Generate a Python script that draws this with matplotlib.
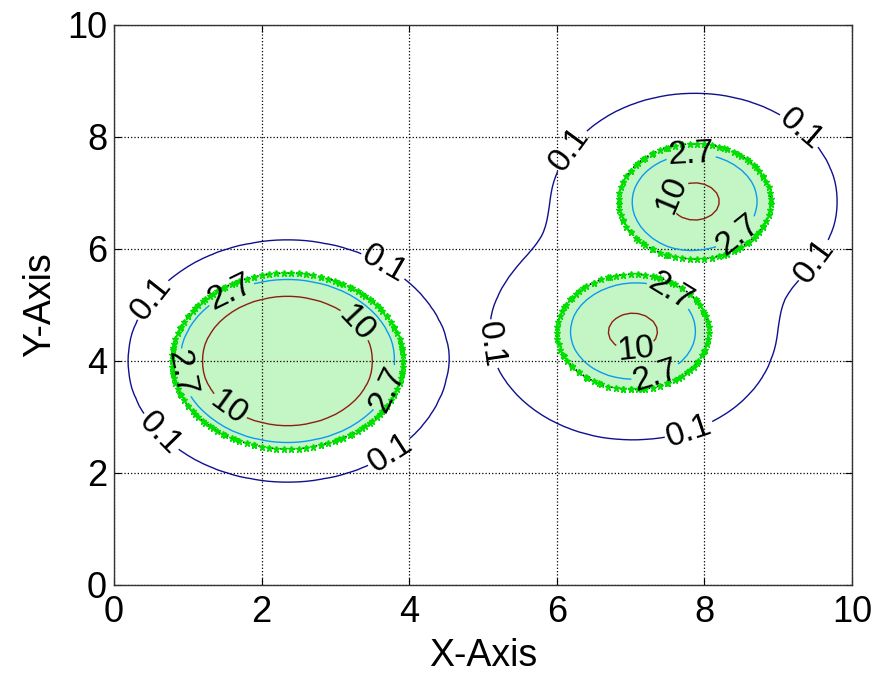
import matplotlib
matplotlib.use('Agg')
import matplotlib.pyplot as plt
import numpy as np

plt.rcParams['font.family'] = ['Liberation Sans', 'DejaVu Sans']

# Blob parameters (centre, peak value, width)
blob_x = [2.35, 7.03, 7.87]
blob_y = [4.00, 4.52, 6.85]
blob_peak = [595.0, 18.8, 18.8]
blob_width = [0.356, 0.485, 0.485]
blob_shape = 1.2

levels = [0.1, 2.7, 10]
level_colors = ['#10108f', '#0a9bf0', '#8e1e12']
fill_level = 1.6

# manual label positions for each level
label_pos = [
    [(0.68, 4.93), (3.58, 5.55), (0.54, 2.62), (3.74, 2.35),
     (6.33, 7.63), (9.18, 7.95), (9.46, 5.82), (5.10, 4.30), (7.82, 2.62)],
    [(1.63, 5.10), (0.88, 3.77), (3.71, 3.50),
     (7.82, 7.50), (8.50, 6.17), (7.35, 4.84), (7.35, 3.72)],
    [(3.20, 4.57), (1.50, 3.06), (7.69, 6.89), (7.07, 4.22)],
]

# field on a coarse grid
xg = np.linspace(0, 10, 101)
yg = np.linspace(0, 10, 101)
X, Y = np.meshgrid(xg, yg)
parts = []
for cx, cy, a, w in zip(blob_x, blob_y, blob_peak, blob_width):
    r = np.hypot(X - cx, Y - cy)
    parts.append(a * np.exp(-(r / w) ** blob_shape))
Z = np.sum(parts, axis=0)
Zcore = np.max(parts, axis=0)   # filled cores are kept apart

fig = plt.figure(figsize=(8.77, 6.76), dpi=100)
ax = fig.add_axes([114 / 877, 1 - 585 / 676, (852 - 114) / 877, (585 - 25) / 676])

# green filled region with star-marked edge
ax.contourf(X, Y, Zcore, levels=[fill_level, Zcore.max() + 1], colors=['#c4f5c4'], zorder=1)
edge = ax.contour(X, Y, Zcore, levels=[fill_level], colors='none')
for seg in edge.allsegs[0]:
    ax.plot(seg[:, 0], seg[:, 1], color='black', lw=1.2, ls=':', zorder=2)
    ax.plot(seg[:, 0], seg[:, 1], ls='none', marker='*', ms=5,
            color='#00e000', mec='#00e000', zorder=3)

for lev, col, pos in zip(levels, level_colors, label_pos):
    cs = ax.contour(X, Y, Z, levels=[lev], colors=[col], linewidths=1.0, zorder=4)
    ax.clabel(cs, manual=pos, inline=True, fontsize=24, colors='black',
              inline_spacing=2, fmt='%g')

ax.set_xlim(0, 10)
ax.set_ylim(0, 10)
ax.set_xticks(np.arange(0, 11, 2))
ax.set_yticks(np.arange(0, 11, 2))
ax.grid(True, color='black', ls=':', lw=0.9)
ax.tick_params(direction='in', labelsize=26, length=5, top=True, right=True)
ax.tick_params(axis='x', pad=7)
ax.tick_params(axis='y', pad=5)
for s in ax.spines.values():
    s.set_linewidth(1.0)
    s.set_color('#333333')
ax.set_xlabel('X-Axis', fontsize=27, labelpad=6)
ax.set_ylabel('Y-Axis', fontsize=27, labelpad=6)

fig.savefig('out.png', dpi=100, facecolor='white')
